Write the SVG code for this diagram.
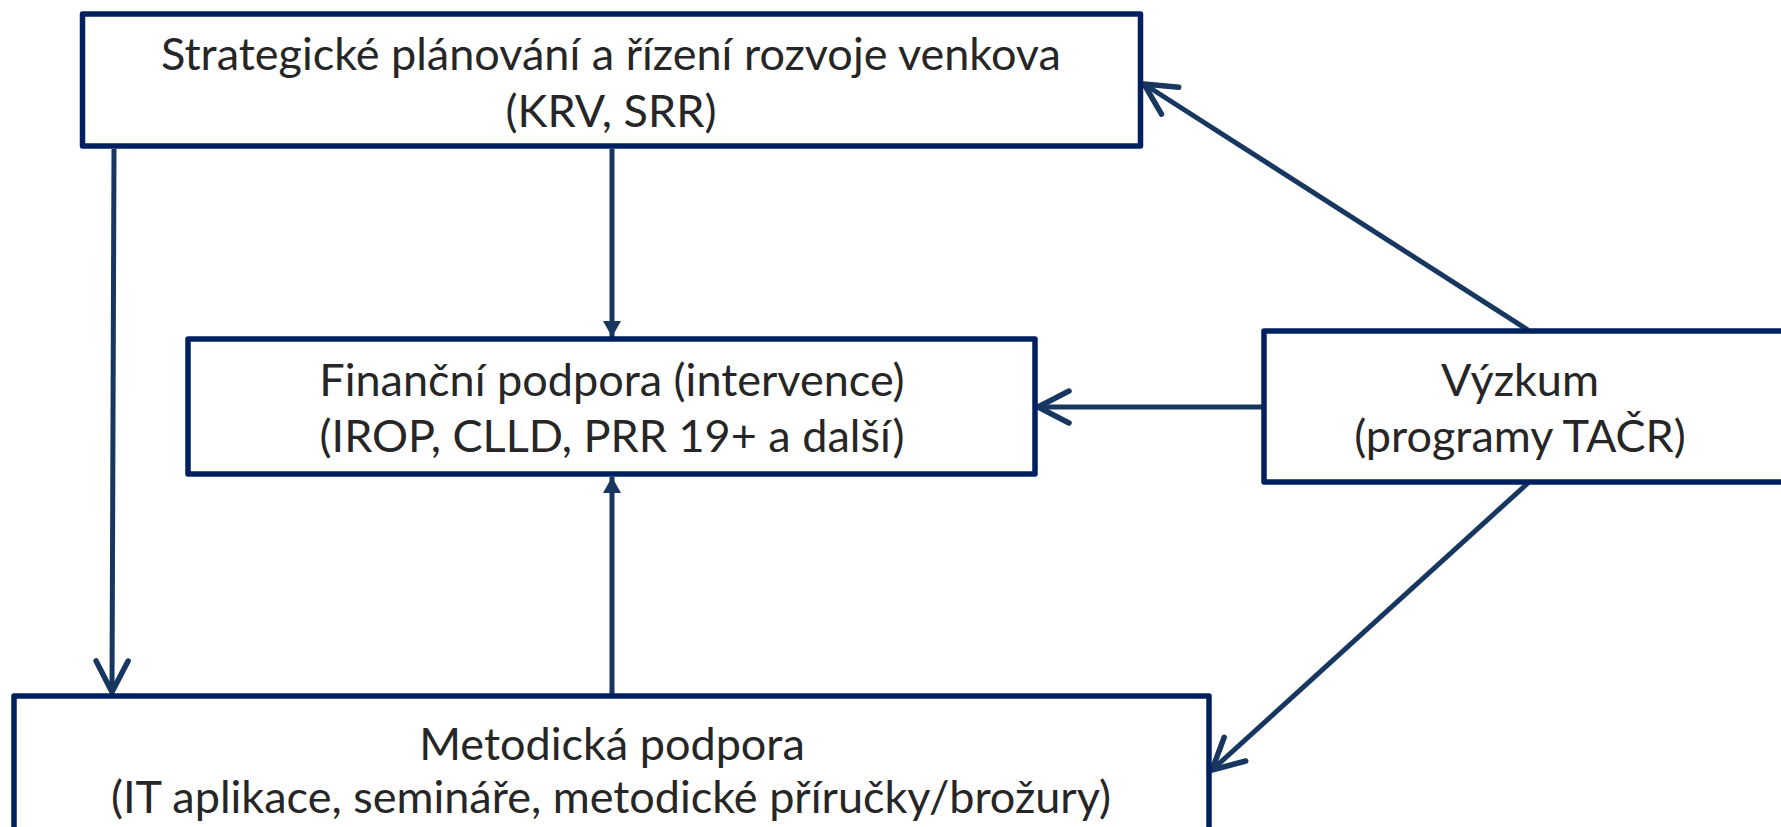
<svg xmlns="http://www.w3.org/2000/svg" width="1781" height="827" viewBox="0 0 1781 827">
<style>
.box{fill:#ffffff;stroke:#002060;stroke-width:5.5;stroke-linejoin:round}
.lbl{font-family:Lato,"Open Sans","Liberation Sans",sans-serif;font-size:45px;fill:#262626;text-anchor:middle}
.con{fill:none;stroke:#173660;stroke-width:5}
</style>
<defs>
<marker id="open" markerUnits="userSpaceOnUse" markerWidth="40" markerHeight="40" refX="0" refY="0" orient="auto" overflow="visible">
<path d="M-31,-16 L0,0 L-31,16" fill="none" stroke="#173660" stroke-width="5.5" stroke-linecap="round" stroke-linejoin="round"/>
</marker>
<marker id="fill" markerUnits="userSpaceOnUse" markerWidth="20" markerHeight="20" refX="0" refY="0" orient="auto" overflow="visible">
<path d="M-16,-9 L0,0 L-16,9 Z" fill="#173660"/>
</marker>
</defs>
<g id="connectors">
<line class="con" x1="114" y1="149" x2="112" y2="692" marker-end="url(#open)"/>
<line class="con" x1="612" y1="149" x2="612" y2="337" marker-end="url(#fill)"/>
<line class="con" x1="612" y1="694" x2="612" y2="477" marker-end="url(#fill)"/>
<line class="con" x1="1263" y1="407" x2="1038" y2="407" marker-end="url(#open)"/>
<line class="con" x1="1528" y1="330" x2="1144" y2="84" marker-end="url(#open)"/>
<line class="con" x1="1528" y1="483" x2="1212" y2="770" marker-end="url(#open)"/>
</g>
<g id="node-strategie">
<rect class="box" x="82.5" y="14" width="1058" height="132"/>
<text class="lbl" x="611" y="70">Strategické plánování a řízení rozvoje venkova</text>
<text class="lbl" x="611" y="127">(KRV, SRR)</text>
</g>
<g id="node-financni">
<rect class="box" x="188" y="339" width="847" height="135"/>
<text class="lbl" x="612" y="396">Finanční podpora (intervence)</text>
<text class="lbl" x="612" y="452">(IROP, CLLD, PRR 19+ a další)</text>
</g>
<g id="node-vyzkum">
<rect class="box" x="1264" y="331" width="600" height="151"/>
<text class="lbl" x="1520" y="396">Výzkum</text>
<text class="lbl" x="1520" y="452">(programy TAČR)</text>
</g>
<g id="node-metodicka">
<rect class="box" x="14" y="696" width="1195" height="200"/>
<text class="lbl" x="612" y="760">Metodická podpora</text>
<text class="lbl" x="611" y="813">(IT aplikace, semináře, metodické příručky/brožury)</text>
</g>
</svg>
